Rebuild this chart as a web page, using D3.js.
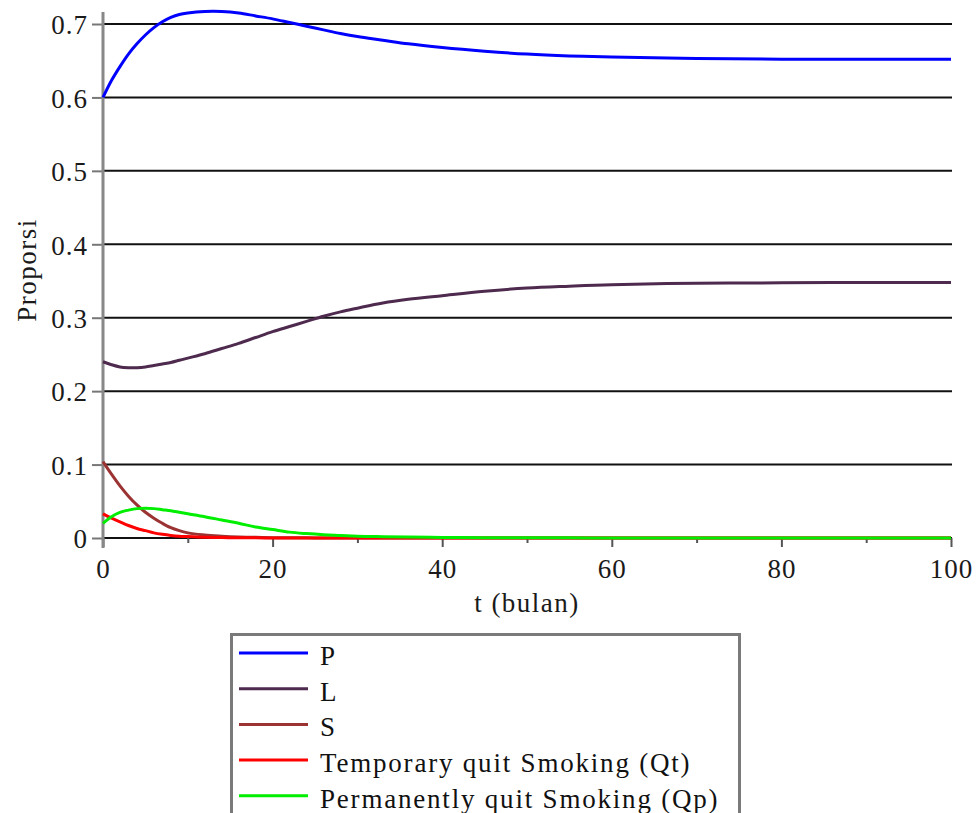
<!DOCTYPE html>
<html>
<head>
<meta charset="utf-8">
<script src="https://cdn.jsdelivr.net/npm/d3@7"></script>
<style>
  body { margin: 0; background: #fff; }
  text { font-family: "Liberation Serif", "Times New Roman", serif; }
</style>
</head>
<body>
<div id="chart"></div>
<script>
var tVals = [0, 1, 2, 3, 4, 5, 6, 7, 8, 9, 10, 12, 14, 16, 18, 20, 22, 24, 26, 28, 30, 33, 36, 40, 45, 50, 55, 60, 70, 80, 90, 100];

var pVals = [0.600, 0.623, 0.642, 0.659, 0.673, 0.685, 0.695, 0.703, 0.709, 0.713, 0.715, 0.717, 0.717, 0.715, 0.711, 0.707, 0.702, 0.697, 0.692, 0.687, 0.683, 0.678, 0.673, 0.668, 0.663, 0.659, 0.6565, 0.655, 0.653, 0.652, 0.652, 0.652];
var lVals = [0.240, 0.236, 0.233, 0.232, 0.232, 0.233, 0.235, 0.237, 0.239, 0.242, 0.245, 0.251, 0.258, 0.265, 0.273, 0.281, 0.288, 0.295, 0.302, 0.308, 0.313, 0.320, 0.325, 0.330, 0.336, 0.3405, 0.343, 0.345, 0.347, 0.3475, 0.348, 0.348];
var sVals = [0.104, 0.087, 0.071, 0.057, 0.045, 0.035, 0.027, 0.020, 0.014, 0.010, 0.007, 0.004, 0.0025, 0.0015, 0.001, 0.0005, 0.0003, 0.0002, 0.0001, 0, 0, 0, 0, 0, 0, 0, 0, 0, 0, 0, 0, 0];
var qtVals = [0.033, 0.027, 0.022, 0.017, 0.013, 0.010, 0.007, 0.005, 0.0035, 0.0025, 0.002, 0.001, 0.0006, 0.0003, 0.0002, 0.0001, 0, 0, 0, 0, 0, 0, 0, 0, 0, 0, 0, 0, 0, 0, 0, 0];
var qpVals = [0.020, 0.029, 0.035, 0.038, 0.040, 0.0405, 0.040, 0.0385, 0.037, 0.035, 0.033, 0.029, 0.0245, 0.020, 0.015, 0.0115, 0.008, 0.006, 0.0045, 0.0035, 0.0025, 0.0018, 0.0013, 0.0008, 0.0005, 0.0003, 0.0002, 0.0001, 0, 0, 0, 0];

var seriesNames = ["P", "L", "S", "Temporary quit Smoking (Qt)", "Permanently quit Smoking (Qp)"];
var seriesColors = ["#0000ff", "#4e2a4e", "#9b3333", "#ff0000", "#00ee00"];

var xTicks = [0, 10, 20, 30, 40, 50, 60, 70, 80, 90, 100];
var xTickLabels = ["0", "20", "40", "60", "80", "100"];
var yTicks = [0, 0.1, 0.2, 0.3, 0.4, 0.5, 0.6, 0.7];
var yTickLabels = ["0", "0.1", "0.2", "0.3", "0.4", "0.5", "0.6", "0.7"];

var svgWidth = 976;
var svgHeight = 813;

var svg = d3.select("#chart")
  .append("svg")
  .attr("width", svgWidth)
  .attr("height", svgHeight);

var x = d3.scaleLinear().domain([0, 100]).range([103, 951]);
var y = d3.scaleLinear().domain([0, 0.7]).range([538, 24]);

// horizontal grid lines
svg.append("g")
  .selectAll("line")
  .data(yTicks)
  .enter()
  .append("line")
  .attr("x1", x(0))
  .attr("x2", x(100) + 1)
  .attr("y1", d => y(d))
  .attr("y2", d => y(d))
  .attr("stroke", "#111")
  .attr("stroke-width", 2);

// y axis
var leftAxis = d3.axisLeft(y)
  .tickValues(yTicks)
  .tickSize(11)
  .tickPadding(4)
  .tickFormat((d, i) => yTickLabels[i]);

var yAxisG = svg.append("g")
  .attr("transform", `translate(${x(0)},0)`)
  .call(leftAxis);
yAxisG.select(".domain").remove();
yAxisG.selectAll("line").attr("stroke", "#777").attr("stroke-width", 2);
yAxisG.selectAll("text")
  .attr("font-size", 27)
  .attr("letter-spacing", 1)
  .attr("fill", "#1a1a1a")
  .attr("dy", "0.36em")
  .style("font-family", "'Liberation Serif', serif");

// x axis: minor and major ticks
var minorAxis = d3.axisBottom(x)
  .tickValues(xTicks.filter(d => d % 20 !== 0))
  .tickSize(5)
  .tickFormat("");
var xMinorG = svg.append("g")
  .attr("transform", `translate(0,${y(0)})`)
  .call(minorAxis);
xMinorG.select(".domain").remove();
xMinorG.selectAll("line").attr("stroke", "#555").attr("stroke-width", 2);

var bottomAxis = d3.axisBottom(x)
  .tickValues(xTicks.filter(d => d % 20 === 0))
  .tickSize(9)
  .tickPadding(12)
  .tickFormat((d, i) => xTickLabels[i]);
var xAxisG = svg.append("g")
  .attr("transform", `translate(0,${y(0)})`)
  .call(bottomAxis);
xAxisG.select(".domain").remove();
xAxisG.selectAll("line").attr("stroke", "#555").attr("stroke-width", 2);
xAxisG.selectAll("text")
  .attr("font-size", 27)
  .attr("letter-spacing", 1)
  .attr("fill", "#1a1a1a")
  .style("font-family", "'Liberation Serif', serif");

// vertical axis line
svg.append("line")
  .attr("x1", x(0))
  .attr("x2", x(0))
  .attr("y1", 12)
  .attr("y2", 548)
  .attr("stroke", "#888")
  .attr("stroke-width", 3);

// curves: smooth spline for the big ones, monotone for the ones that decay to 0
var seriesVals = [pVals, lVals, sVals, qtVals, qpVals];
var seriesCurves = [d3.curveCatmullRom.alpha(0.5), d3.curveCatmullRom.alpha(0.5),
  d3.curveMonotoneX, d3.curveMonotoneX, d3.curveMonotoneX];

svg.append("g")
  .selectAll("path")
  .data(seriesVals)
  .enter()
  .append("path")
  .attr("d", (d, i) => d3.line()
    .x((v, j) => x(tVals[j]))
    .y(v => y(v))
    .curve(seriesCurves[i])(d))
  .attr("fill", "none")
  .attr("stroke", (d, i) => seriesColors[i])
  .attr("stroke-width", 3);

// axis titles
svg.append("text")
  .attr("x", 527)
  .attr("y", 612)
  .attr("text-anchor", "middle")
  .attr("font-size", 27)
  .attr("letter-spacing", 1.5)
  .attr("fill", "#1a1a1a")
  .text("t (bulan)");

svg.append("text")
  .attr("transform", "translate(36,270) rotate(-90)")
  .attr("text-anchor", "middle")
  .attr("font-size", 27)
  .attr("letter-spacing", 1.5)
  .attr("fill", "#1a1a1a")
  .text("Proporsi");

// legend
var legend = svg.append("g");
legend.append("rect")
  .attr("x", 231.5)
  .attr("y", 634.5)
  .attr("width", 508)
  .attr("height", 220)
  .attr("fill", "#fff")
  .attr("stroke", "#7a7a7a")
  .attr("stroke-width", 3);

var items = legend.selectAll(".item")
  .data(seriesNames)
  .enter()
  .append("g")
  .attr("class", "item")
  .attr("transform", (d, i) => `translate(0,${653 + i * 35.7})`);

items.append("line")
  .attr("x1", 239)
  .attr("x2", 308)
  .attr("stroke", (d, i) => seriesColors[i])
  .attr("stroke-width", 3);

items.append("text")
  .attr("x", 320)
  .attr("y", 12)
  .attr("font-size", 27)
  .attr("letter-spacing", 1.8)
  .attr("fill", "#111")
  .text(d => d);
</script>
</body>
</html>
